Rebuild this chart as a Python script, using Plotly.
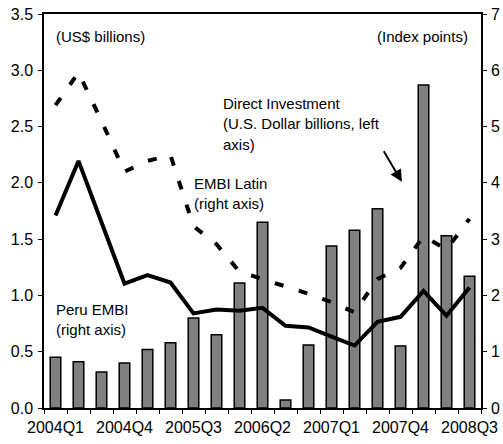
import plotly.graph_objects as go
from plotly.subplots import make_subplots

quarters = [
    "2004Q1", "2004Q2", "2004Q3", "2004Q4",
    "2005Q1", "2005Q2", "2005Q3", "2005Q4",
    "2006Q1", "2006Q2", "2006Q3", "2006Q4",
    "2007Q1", "2007Q2", "2007Q3", "2007Q4",
    "2008Q1", "2008Q2", "2008Q3",
]
tick_labels = [q if i % 3 == 0 else "" for i, q in enumerate(quarters)]

# Direct investment, US$ billions (left axis)
direct_investment = [0.45, 0.41, 0.32, 0.40, 0.52, 0.58, 0.80, 0.65, 1.11, 1.65,
                     0.07, 0.56, 1.44, 1.58, 1.77, 0.55, 2.87, 1.53, 1.17]
# EMBI spreads, index points (right axis)
peru_embi = [3.42, 4.39, 3.30, 2.21, 2.36, 2.23, 1.68, 1.75, 1.73, 1.78,
             1.46, 1.43, 1.27, 1.11, 1.53, 1.62, 2.08, 1.64, 2.14]
embi_latin = [5.38, 5.96, 5.10, 4.20, 4.39, 4.49, 3.23, 2.91, 2.42, 2.29,
              2.15, 2.03, 1.88, 1.70, 2.29, 2.49, 3.05, 2.82, 3.36]

FONT = "Liberation Sans, Arial, sans-serif"

fig = make_subplots(specs=[[{"secondary_y": True}]])

fig.add_trace(go.Bar(
    x=quarters, y=direct_investment, width=0.46,
    marker=dict(color="#808080", line=dict(color="black", width=1.5)),
    showlegend=False,
), secondary_y=False)

fig.add_trace(go.Scatter(
    x=quarters, y=embi_latin, mode="lines",
    line=dict(color="black", width=4, dash="9px,16px"),
    showlegend=False,
), secondary_y=True)

fig.add_trace(go.Scatter(
    x=quarters, y=peru_embi, mode="lines",
    line=dict(color="black", width=4),
    showlegend=False,
), secondary_y=True)

fig.update_xaxes(
    domain=[0, 1],
    type="category", tickmode="array", tickvals=quarters, ticktext=tick_labels,
    tickson="boundaries", ticks="outside", ticklen=4, tickcolor="black",
    showline=True, linecolor="black", linewidth=1.5, mirror=True,
    showgrid=False, tickangle=0, automargin=False, ticklabelstandoff=4,
    tickfont=dict(family=FONT, size=16, color="black"),
)
fig.update_yaxes(
    range=[0, 3.5], dtick=0.5, tickformat=".1f", secondary_y=False,
    ticks="outside", ticklen=4, tickcolor="black",
    showline=True, linecolor="black", linewidth=1.5,
    showgrid=False, zeroline=False, automargin=False, ticklabelstandoff=2,
    tickfont=dict(family=FONT, size=16, color="black"),
)
fig.update_yaxes(
    range=[0, 7], dtick=1, secondary_y=True,
    ticks="outside", ticklen=4, tickcolor="black",
    showline=True, linecolor="black", linewidth=1.5,
    showgrid=False, zeroline=False, automargin=False, ticklabelstandoff=1,
    tickfont=dict(family=FONT, size=16, color="black"),
)


def label(text, x, y, anchor="left"):
    fig.add_annotation(
        text=text, xref="paper", yref="paper", x=x, y=y,
        xanchor=anchor, yanchor="middle", showarrow=False,
        font=dict(family=FONT, size=15, color="black"),
    )


label("(US$ billions)", 0.022, 0.942)
label("(Index points)", 0.975, 0.942, anchor="right")
label("Direct Investment", 0.406, 0.774)
label("(U.S. Dollar billions, left", 0.406, 0.721)
label("axis)", 0.406, 0.670)
label("EMBI Latin", 0.338, 0.571)
label("(right axis)", 0.338, 0.520)
label("Peru EMBI", 0.024, 0.251)
label("(right axis)", 0.024, 0.2005)

# Arrow pointing at the investment bars
fig.add_annotation(
    xref="paper", yref="paper", x=0.819, y=0.574, ax=-19, ay=-32,
    text="", showarrow=True, arrowhead=2, arrowsize=1.2, arrowwidth=2,
    arrowcolor="black",
)

fig.update_layout(
    width=503, height=444,
    margin=dict(l=44, r=22, t=14, b=36),
    plot_bgcolor="white", paper_bgcolor="white",
    bargap=0.5,
    font=dict(family=FONT, color="black"),
)

fig.write_html("out.html")
